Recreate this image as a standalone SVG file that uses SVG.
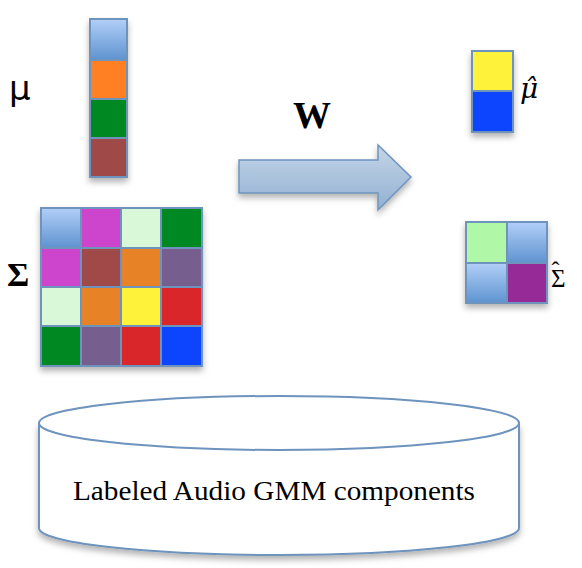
<svg xmlns="http://www.w3.org/2000/svg" width="582" height="568" viewBox="0 0 582 568">
<defs>
<linearGradient id="lb" x1="0" y1="0" x2="0" y2="1">
<stop offset="0" stop-color="#B2CFF8"/>
<stop offset="1" stop-color="#5E93CF"/>
</linearGradient>
<linearGradient id="arr" x1="0" y1="0" x2="0" y2="1">
<stop offset="0" stop-color="#C4D5E8"/>
<stop offset="1" stop-color="#92B0D2"/>
</linearGradient>
<filter id="sh" x="-20%" y="-20%" width="140%" height="140%">
<feDropShadow dx="0" dy="4" stdDeviation="3" flood-color="#000" flood-opacity="0.3"/>
</filter>
</defs>
<style>
.c{stroke:#6E94BD;stroke-width:2}
.lbl{font-family:"Liberation Serif",serif;fill:#000}
.hat{font-family:"DejaVu Serif",serif;fill:#000}
</style>
<rect width="582" height="568" fill="#fff"/>
<g id="mu">
<text x="9" y="100" font-family="'DejaVu Sans',sans-serif" font-size="34" fill="#000">μ</text>
<g filter="url(#sh)">
<rect class="c" x="90" y="19" width="37" height="41" fill="url(#lb)"/>
<rect class="c" x="90" y="60" width="37" height="39" fill="#FF7F20"/>
<rect class="c" x="90" y="99" width="37" height="39" fill="#008822"/>
<rect class="c" x="90" y="138" width="37" height="39" fill="#A04848"/>
</g>
</g>
<g id="sigma">
<text class="lbl" x="7" y="286" font-size="34" font-weight="bold">Σ</text>
<g filter="url(#sh)">
<rect class="c" x="41" y="208" width="40" height="40" fill="url(#lb)"/>
<rect class="c" x="81" y="208" width="40" height="40" fill="#CC44CC"/>
<rect class="c" x="121" y="208" width="40" height="40" fill="#D8F8D8"/>
<rect class="c" x="161" y="208" width="41" height="40" fill="#008822"/>
<rect class="c" x="41" y="248" width="40" height="39" fill="#CC44CC"/>
<rect class="c" x="81" y="248" width="40" height="39" fill="#A04848"/>
<rect class="c" x="121" y="248" width="40" height="39" fill="#E88228"/>
<rect class="c" x="161" y="248" width="41" height="39" fill="#765E8E"/>
<rect class="c" x="41" y="287" width="40" height="39" fill="#D8F8D8"/>
<rect class="c" x="81" y="287" width="40" height="39" fill="#E88228"/>
<rect class="c" x="121" y="287" width="40" height="39" fill="#FFF23A"/>
<rect class="c" x="161" y="287" width="41" height="39" fill="#D8282A"/>
<rect class="c" x="41" y="326" width="40" height="40" fill="#008822"/>
<rect class="c" x="81" y="326" width="40" height="40" fill="#765E8E"/>
<rect class="c" x="121" y="326" width="40" height="40" fill="#D8282A"/>
<rect class="c" x="161" y="326" width="41" height="40" fill="#1144FF"/>
</g>
</g>
<g id="connectors">
<path d="M239,160 L378,160 L378,145 L411,177 L378,210 L378,193 L239,193 Z" fill="url(#arr)" stroke="#6E94BD" stroke-width="1.5" filter="url(#sh)"/>
<text class="lbl" x="312" y="128" font-size="38" font-weight="bold" text-anchor="middle">W</text>
</g>
<g id="muhat">
<g filter="url(#sh)">
<rect class="c" x="472" y="51" width="41" height="40" fill="#FFF23A"/>
<rect class="c" x="472" y="91" width="41" height="41" fill="#1144FF"/>
</g>
<text class="hat" x="520" y="98" font-size="28" font-style="italic">μ̂</text>
</g>
<g id="sigmahat">
<g filter="url(#sh)">
<rect class="c" x="466" y="222" width="41" height="41" fill="#B0F8A8"/>
<rect class="c" x="507" y="222" width="40" height="41" fill="url(#lb)"/>
<rect class="c" x="466" y="263" width="41" height="40" fill="url(#lb)"/>
<rect class="c" x="507" y="263" width="40" height="40" fill="#962A96"/>
</g>
<text class="lbl" x="551" y="287" font-size="25">Σ<tspan dx="-14" dy="-9" font-size="24">ˆ</tspan></text>
</g>
<g id="db">
<path d="M39,423 L39,528 A240,27 0 0 0 519,528 L519,423" fill="#fff" stroke="#6E94BD" stroke-width="2" filter="url(#sh)"/>
<ellipse cx="279" cy="423" rx="240" ry="27" fill="#fff" stroke="#6E94BD" stroke-width="2"/>
<text class="lbl" x="274" y="500" font-size="27" text-anchor="middle" textLength="402" lengthAdjust="spacingAndGlyphs">Labeled Audio GMM components</text>
</g>
</svg>
